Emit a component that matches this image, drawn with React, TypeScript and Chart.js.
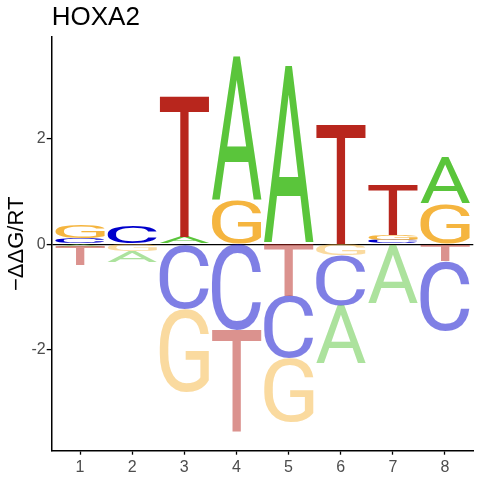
import { useEffect, useRef } from "react";
import { Chart, registerables } from "chart.js";

Chart.register(...registerables);

const positions = [1, 2, 3, 4, 5, 6, 7, 8];
const letters = ["A", "C", "G", "T"];

// letter heights above zero, per position
const aUp = [0, 0, 0.14, 2.73, 3.38, 0, 0, 0.89];
const cUp = [0.12, 0.35, 0, 0, 0, 0, 0.08, 0];
const gUp = [0.26, 0, 0, 0.84, 0, 0, 0.1, 0.77];
const tUp = [0, 0, 2.67, 0, 0, 2.28, 0.96, 0];

// letter heights below zero, per position
const aDown = [0.05, 0.2, 0, 0, 0, 1.11, 1.13, 0];
const cDown = [0, 0, 1.23, 1.63, 1.18, 0.95, 0, 1.32];
const gDown = [0, 0.14, 1.58, 0, 1.21, 0.21, 0, 0];
const tDown = [0.34, 0, 0, 1.93, 0.98, 0, 0, 0.32];

const xTicks = [1, 2, 3, 4, 5, 6, 7, 8];
const yTicks = [-2, 0, 2];

const letterColors: Record<string, string> = {
  A: "#5ac53b",
  C: "#0000cc",
  G: "#f5b53f",
  T: "#b8261d",
};

const FONT = "'Liberation Sans', Arial, sans-serif";
const LETTER_FONT = "200px Roboto, 'Liberation Sans', sans-serif";

// stack letters per position, smallest next to zero
function stack(heights: Record<string, number[]>, sign: number) {
  const out: Record<string, { x: number; y: [number, number] }[]> = { A: [], C: [], G: [], T: [] };
  positions.forEach((p, i) => {
    const items = letters
      .map((L) => ({ L, h: heights[L][i] }))
      .filter((d) => d.h > 0)
      .sort((a, b) => a.h - b.h);
    let base = 0;
    items.forEach((d) => {
      const top = base + sign * d.h;
      out[d.L].push({ x: p, y: [base, top] });
      base = top;
    });
  });
  return out;
}

const logoPlugin = {
  id: "logoLetters",
  afterDatasetsDraw(chart: any) {
    const ctx = chart.ctx;
    chart.data.datasets.forEach((ds: any, di: number) => {
      const meta = chart.getDatasetMeta(di);
      meta.data.forEach((bar: any) => {
        const { x, y, base, width } = bar.getProps(["x", "y", "base", "width"], true);
        const top = Math.min(y, base);
        const h = Math.abs(base - y);
        if (h < 0.5) return;
        ctx.save();
        ctx.font = LETTER_FONT;
        ctx.textAlign = "left";
        ctx.textBaseline = "alphabetic";
        const m = ctx.measureText(ds.letter);
        const gw = m.actualBoundingBoxLeft + m.actualBoundingBoxRight;
        const gh = m.actualBoundingBoxAscent + m.actualBoundingBoxDescent;
        ctx.translate(x - width / 2, top);
        ctx.scale(width / gw, h / gh);
        ctx.fillStyle = letterColors[ds.letter];
        ctx.globalAlpha = ds.negative ? 0.5 : 1;
        ctx.fillText(ds.letter, m.actualBoundingBoxLeft, m.actualBoundingBoxAscent);
        ctx.restore();
      });
    });
  },
};

export default function App() {
  const canvasRef = useRef<HTMLCanvasElement>(null);
  const chartRef = useRef<Chart | null>(null);

  useEffect(() => {
    if (!canvasRef.current) return;
    if (chartRef.current) chartRef.current.destroy();

    const up = stack({ A: aUp, C: cUp, G: gUp, T: tUp }, 1);
    const down = stack({ A: aDown, C: cDown, G: gDown, T: tDown }, -1);

    const datasets: any[] = [];
    letters.forEach((L) => {
      datasets.push({ label: L + "+", letter: L, negative: false, data: up[L] });
      datasets.push({ label: L + "-", letter: L, negative: true, data: down[L] });
    });
    datasets.forEach((d) => {
      d.backgroundColor = "rgba(0,0,0,0)";
      d.borderWidth = 0;
      d.grouped = false;
      d.barPercentage = 0.95;
      d.categoryPercentage = 1;
    });

    chartRef.current = new Chart(canvasRef.current, {
      type: "bar",
      data: { datasets },
      plugins: [logoPlugin],
      options: {
        animation: false,
        responsive: false,
        layout: { padding: { left: 0, right: 6.7, top: 0, bottom: 0 } },
        plugins: {
          legend: { display: false },
          tooltip: { enabled: false },
          title: {
            display: true,
            text: "HOXA2",
            align: "start",
            fullSize: false,
            color: "#000",
            font: { family: FONT, size: 26, weight: "normal", lineHeight: 1 },
            padding: { top: 4.7, bottom: 6.3 },
          },
        },
        scales: {
          x: {
            type: "linear",
            min: 0.457,
            max: 8.543,
            offset: false,
            afterBuildTicks: (s: any) => {
              s.ticks = xTicks.map((v) => ({ value: v }));
            },
            afterFit: (s: any) => {
              s.height = 29.3;
            },
            grid: { offset: false, drawOnChartArea: false, tickLength: 4, tickColor: "#000", tickWidth: 1.3 },
            border: { color: "#000", width: 1.5 },
            ticks: { color: "#4d4d4d", font: { family: FONT, size: 16 }, padding: 3 },
          },
          y: {
            type: "linear",
            min: -3.92,
            max: 3.93,
            z: 1,
            afterBuildTicks: (s: any) => {
              s.ticks = yTicks.map((v) => ({ value: v }));
            },
            afterFit: (s: any) => {
              s.width = 51.7;
            },
            grid: {
              color: (c: any) => (c.tick && c.tick.value === 0 ? "#000" : "rgba(0,0,0,0)"),
              lineWidth: 1.2,
              tickColor: "#000",
              tickLength: 5,
              tickWidth: 1.3,
            },
            border: { color: "#000", width: 1.5 },
            ticks: { color: "#4d4d4d", font: { family: FONT, size: 16 }, padding: 1 },
            title: {
              display: true,
              text: "\u2212\u0394\u0394G/RT",
              color: "#000",
              font: { family: FONT, size: 22, lineHeight: 1 },
              padding: { top: 6.4, bottom: 0 },
            },
          },
        },
      } as any,
    });

    return () => {
      if (chartRef.current) {
        chartRef.current.destroy();
        chartRef.current = null;
      }
    };
  }, []);

  return (
    <div style={{ position: "fixed", left: 0, top: 0, width: 480, height: 480, background: "#fff" }}>
      <canvas ref={canvasRef} width={480} height={480}></canvas>
    </div>
  );
}
